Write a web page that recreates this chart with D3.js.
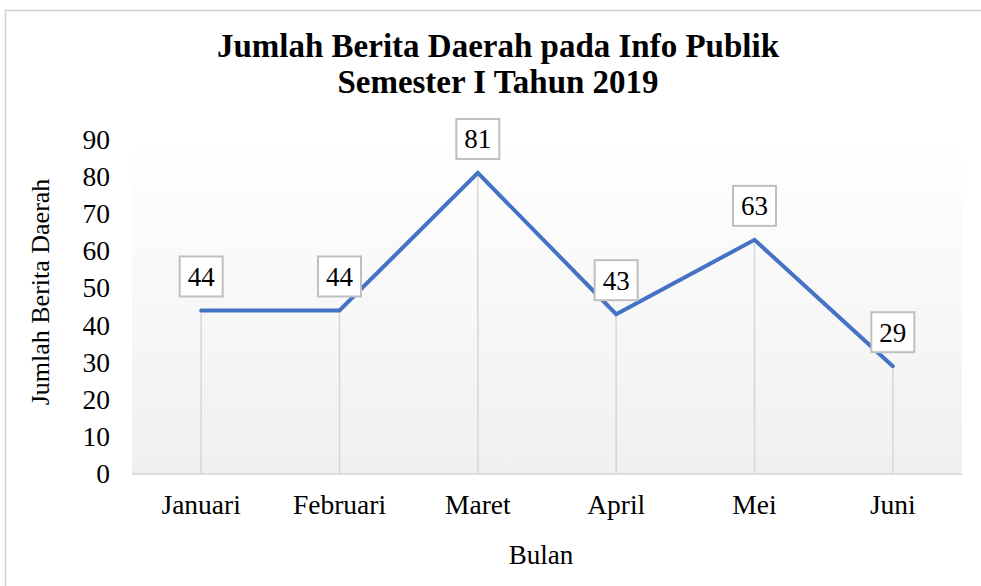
<!DOCTYPE html>
<html><head><meta charset="utf-8">
<script src="https://cdn.jsdelivr.net/npm/d3@7"></script>
<style>html,body{margin:0;padding:0;background:#fff;}svg{display:block;}</style>
</head><body>
<script>
const categories = ["Januari","Februari","Maret","April","Mei","Juni"];
const values = [44,44,81,43,63,29];
const yTicks = [0,10,20,30,40,50,60,70,80,90];
const titleLines = ["Jumlah Berita Daerah pada Info Publik","Semester I Tahun 2019"];
const yTitle = "Jumlah Berita Daerah";
const xTitle = "Bulan";

const W = 981, H = 586;
const svg = d3.select("body").append("svg").attr("width", W).attr("height", H);
const font = "'Liberation Serif','Times New Roman',serif";

// outer border
svg.append("rect").attr("x",5.5).attr("y",10.5).attr("width",W+10).attr("height",H+10)
  .attr("fill","#fff").attr("stroke","#d0d0d0").attr("stroke-width",1.5);

const plot = {l:132, r:962, t:139.5, b:474};
const x = d3.scaleBand().domain(categories).range([plot.l, plot.r]);
const y = d3.scaleLinear().domain([0,90]).range([plot.b, plot.t]);

const defs = svg.append("defs");
const g = defs.append("linearGradient").attr("id","bg").attr("x1",0).attr("y1",0).attr("x2",0).attr("y2",1);
g.append("stop").attr("offset","0%").attr("stop-color","#ffffff");
g.append("stop").attr("offset","100%").attr("stop-color","#f0f0f0");
svg.append("rect").attr("x",plot.l).attr("y",plot.t).attr("width",plot.r-plot.l).attr("height",plot.b-plot.t)
  .attr("fill","url(#bg)");

// title
svg.append("text").attr("x",498).attr("text-anchor","middle").attr("font-family",font)
  .attr("font-weight","bold").attr("font-size",33).attr("fill","#000")
  .selectAll("tspan").data(titleLines).join("tspan")
  .attr("x",498).attr("y",(d,i)=>57+i*36).text(d=>d);

// drop lines
svg.append("g").selectAll("line").data(values).join("line")
  .attr("x1",(d,i)=>x(categories[i])+x.bandwidth()/2)
  .attr("x2",(d,i)=>x(categories[i])+x.bandwidth()/2)
  .attr("y1",d=>y(d)).attr("y2",plot.b)
  .attr("stroke","#d6d6d6").attr("stroke-width",1.5);

// baseline
svg.append("line").attr("x1",plot.l).attr("x2",plot.r).attr("y1",plot.b).attr("y2",plot.b)
  .attr("stroke","#d6d6d6").attr("stroke-width",1.5);

// y axis
const yAxis = svg.append("g").attr("transform",`translate(${plot.l},0)`)
  .call(d3.axisLeft(y).tickValues(yTicks).tickSize(0).tickPadding(22));
yAxis.select(".domain").remove();
yAxis.selectAll("text").attr("font-family",font).attr("font-size",27.5).attr("fill","#000");

// x axis
const xAxis = svg.append("g").attr("transform",`translate(0,${plot.b})`)
  .call(d3.axisBottom(x).tickSize(0).tickPadding(20));
xAxis.select(".domain").remove();
xAxis.selectAll("text").attr("font-family",font).attr("font-size",27.5).attr("fill","#000");

// line
const line = d3.line().x((d,i)=>x(categories[i])+x.bandwidth()/2).y(d=>y(d));
svg.append("path").datum(values).attr("d",line).attr("fill","none")
  .attr("stroke","#4472c4").attr("stroke-width",4).attr("stroke-linecap","round").attr("stroke-linejoin","miter");

// labels
const lab = svg.append("g").selectAll("g").data(values).join("g")
  .attr("transform",(d,i)=>`translate(${x(categories[i])+x.bandwidth()/2},${y(d)-34})`);
lab.append("rect").attr("x",-21.5).attr("y",-20).attr("width",43).attr("height",40)
  .attr("fill","#fff").attr("stroke","#bfbfbf").attr("stroke-width",2);
lab.append("text").attr("text-anchor","middle").attr("dy","0.35em").attr("font-family",font)
  .attr("font-size",27).attr("fill","#000").text(d=>d);

// axis titles
svg.append("text").attr("transform",`translate(49,292) rotate(-90)`)
  .attr("text-anchor","middle").attr("font-family",font).attr("font-size",26).attr("fill","#000").text(yTitle);
svg.append("text").attr("x",541).attr("y",564).attr("text-anchor","middle")
  .attr("font-family",font).attr("font-size",27).attr("fill","#000").text(xTitle);
</script>
</body></html>
